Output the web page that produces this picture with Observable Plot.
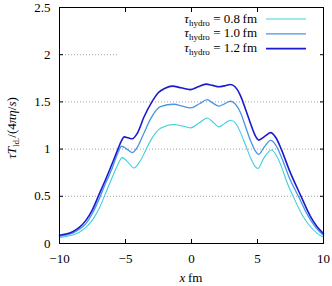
<!DOCTYPE html>
<html>
<head>
<meta charset="utf-8">
<script src="https://cdn.jsdelivr.net/npm/d3@7"></script>
<script src="https://cdn.jsdelivr.net/npm/@observablehq/plot@0.6"></script>
<style>
  html, body { margin: 0; padding: 0; background: #fff; }
  #chart svg { display: block; }
</style>
</head>
<body>
<div id="chart"></div>
<script>
// ---- data ----
const xTicks = [-10, -5, 0, 5, 10];
const yTicks = [0, 0.5, 1, 1.5, 2, 2.5];
const gridValues = [0.5, 1, 1.5, 2];

const seriesNames = ["0.8", "1.0", "1.2"];
const seriesColors = ["#3fcfdc", "#4a95e3", "#1a1ad0"];

const tau08 = [[-10,0.065],[-9.5,0.075],[-9,0.09],[-8.5,0.12],[-8,0.17],[-7.5,0.25],[-7,0.37],[-6.6,0.5],[-6.1,0.67],[-5.6,0.83],[-5.25,0.91],[-4.8,0.86],[-4.37,0.80],[-3.9,0.87],[-3.5,0.98],[-3.1,1.09],[-2.35,1.22],[-1.34,1.26],[-0.7,1.245],[-0.08,1.224],[0.6,1.28],[1.19,1.33],[1.6,1.29],[2.07,1.235],[2.5,1.27],[2.95,1.305],[3.3,1.28],[3.7,1.18],[4.1,1.04],[4.5,0.90],[4.8,0.82],[5.02,0.795],[5.5,0.91],[6.06,0.99],[6.4,0.94],[6.8,0.82],[7.2,0.66],[7.7,0.5],[8.4,0.30],[9.0,0.18],[9.5,0.11],[10,0.065]];

const tau10 = [[-10,0.078],[-9.5,0.09],[-9,0.11],[-8.5,0.15],[-8,0.21],[-7.5,0.32],[-7,0.47],[-6.5,0.64],[-6,0.80],[-5.6,0.95],[-5.3,1.03],[-4.9,1.0],[-4.5,0.963],[-4.1,1.02],[-3.6,1.17],[-3.1,1.32],[-2.35,1.45],[-1.34,1.475],[-0.7,1.455],[-0.08,1.436],[0.6,1.48],[1.19,1.525],[1.6,1.49],[2.07,1.455],[2.5,1.48],[2.95,1.507],[3.3,1.48],[3.7,1.39],[4.1,1.235],[4.5,1.08],[4.8,0.99],[5.1,0.945],[5.5,1.02],[6.0,1.093],[6.4,1.04],[6.8,0.92],[7.4,0.70],[8.1,0.5],[8.8,0.30],[9.4,0.17],[10,0.085]];

const tau12 = [[-10,0.088],[-9.5,0.10],[-9,0.125],[-8.5,0.17],[-8,0.245],[-7.5,0.36],[-7,0.52],[-6.5,0.68],[-6,0.85],[-5.6,0.99],[-5.3,1.09],[-5.1,1.13],[-4.8,1.12],[-4.5,1.11],[-4.1,1.17],[-3.6,1.34],[-3.0,1.50],[-2.5,1.60],[-2.0,1.645],[-1.45,1.667],[-0.8,1.65],[-0.1,1.63],[0.5,1.66],[1.1,1.688],[1.6,1.675],[2.07,1.66],[2.5,1.67],[2.95,1.685],[3.3,1.66],[3.7,1.57],[4.1,1.42],[4.5,1.26],[4.8,1.15],[5.1,1.095],[5.5,1.13],[6.0,1.175],[6.4,1.12],[6.8,1.0],[7.4,0.78],[8.3,0.5],[9.0,0.29],[9.5,0.18],[10,0.105]];

const seriesData = [tau08, tau10, tau12];
const seriesWidths = [1.1, 1.3, 1.6];

// ---- build ----
const font = "'Liberation Serif', 'DejaVu Serif', serif";
const fmt = d => (d < 0 ? "\u2212" + Math.abs(d) : String(d));

const lineMarks = seriesData.map((s, i) =>
  Plot.line(s, {x: d => d[0], y: d => d[1], stroke: seriesColors[i], strokeWidth: seriesWidths[i], curve: "monotone-x"})
);

const plot = Plot.plot({
  width: 332,
  height: 286,
  marginLeft: 59,
  marginRight: 9,
  marginTop: 7,
  marginBottom: 43,
  style: {fontFamily: font, fontSize: "13px", background: "white", color: "black"},
  x: {domain: [-10, 10]},
  y: {domain: [0, 2.5]},
  marks: [
    Plot.gridY(gridValues, {stroke: "#8a8a8a", strokeOpacity: 1, strokeWidth: 0.8, strokeDasharray: "1,2"}),
    ...lineMarks,
    Plot.frame({stroke: "black", strokeWidth: 1}),
    Plot.axisX(xTicks, {tickSize: 0, tickPadding: 10, tickFormat: fmt, label: null, fontSize: 13}),
    Plot.axisY(yTicks, {tickSize: 0, tickPadding: 9, tickFormat: fmt, label: null, fontSize: 13}),
    Plot.axisX([-5, 0, 5], {anchor: "bottom", tickSize: -4, tickFormat: () => "", label: null}),
    Plot.axisX([-5, 0, 5], {anchor: "top", tickSize: -4, tickFormat: () => "", label: null}),
    Plot.axisY(gridValues, {anchor: "right", tickSize: -4, tickFormat: () => "", label: null}),
    Plot.axisY(gridValues, {anchor: "left", tickSize: -4, tickFormat: () => "", label: null})
  ]
});

document.getElementById("chart").appendChild(plot);

// ---- annotations: opaque key box, key, axis titles ----
const svg = d3.select(plot);
const sx = plot.scale("x"), sy = plot.scale("y");
const xr = sx.range, yr = sy.range;
const frameRight = Math.max(...xr), frameTop = Math.min(...yr);

// opaque key box (inserted below the curves)
const firstLine = plot.querySelector("g[aria-label='line']");
const box = document.createElementNS("http://www.w3.org/2000/svg", "rect");
box.setAttribute("x", 119);
box.setAttribute("y", frameTop + 1);
box.setAttribute("width", frameRight - 119 - 1);
box.setAttribute("height", 49);
box.setAttribute("fill", "white");
plot.insertBefore(box, firstLine);

const key = svg.append("g").attr("font-family", font).attr("font-size", 13);
seriesNames.forEach((name, i) => {
  const by = 22.5 + i * 14.8;
  const t = key.append("text").attr("x", 257).attr("y", by).attr("text-anchor", "end");
  t.append("tspan").attr("font-style", "italic").text("\u03c4");
  t.append("tspan").attr("font-size", 9).attr("dy", 3).text("hydro");
  t.append("tspan").attr("dy", -3).text(" = " + name + "\u2009fm");
  key.append("line").attr("x1", 266).attr("x2", 306).attr("y1", by - 3.5).attr("y2", by - 3.5)
    .attr("stroke", seriesColors[i]).attr("stroke-width", seriesWidths[i]);
});

// x label
const xl = svg.append("text").attr("x", 191).attr("y", 282).attr("text-anchor", "middle")
  .attr("font-family", font).attr("font-size", 13);
xl.append("tspan").attr("font-style", "italic").text("x");
xl.append("tspan").text("\u2009fm");

// y label
const yl = svg.append("text").attr("transform", "translate(16,128) rotate(-90)").attr("text-anchor", "middle")
  .attr("font-family", font).attr("font-size", 13);
yl.append("tspan").attr("font-style", "italic").text("\u03c4T");
yl.append("tspan").attr("font-size", 9).attr("dy", 3).text("ld.");
yl.append("tspan").attr("dy", -3).text("/(4");
yl.append("tspan").attr("font-style", "italic").text("\u03c0\u03b7");
yl.append("tspan").text("/");
yl.append("tspan").attr("font-style", "italic").text("s");
yl.append("tspan").text(")");
</script>
</body>
</html>
